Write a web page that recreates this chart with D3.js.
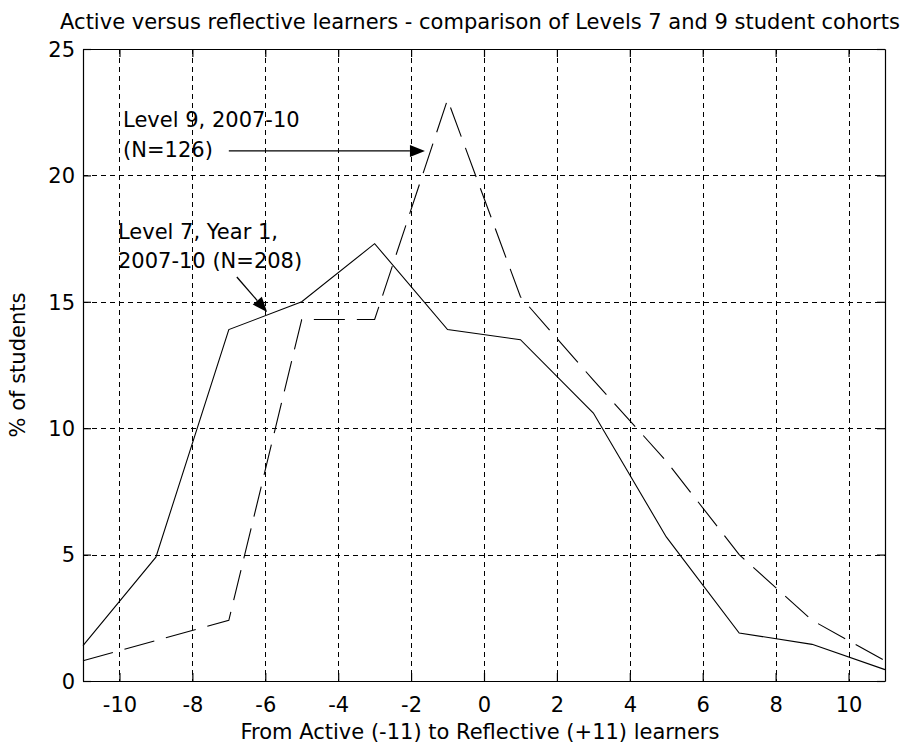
<!DOCTYPE html>
<html><head><meta charset="utf-8">
<script src="https://cdn.jsdelivr.net/npm/d3@7"></script>
<style>
html,body{margin:0;padding:0;background:#fff;}
svg text{font-family:"DejaVu Sans",Verdana,sans-serif;fill:#000;}
</style></head>
<body><svg id="c" width="906" height="749"></svg>
<script>
// ---- data ----
const xCategories = [-11,-9,-7,-5,-3,-1,1,3,5,7,9,11];
const level7 = [1.4,4.9,13.9,15.0,17.3,13.9,13.5,10.6,5.7,1.9,1.45,0.45];
const level9 = [0.8,1.6,2.4,14.3,14.3,23.0,15.2,11.9,8.7,5.0,2.4,0.8];
const xTicks = [-10,-8,-6,-4,-2,0,2,4,6,8,10];
const yTicks = [0,5,10,15,20,25];
const titleText = "Active versus reflective learners - comparison of Levels 7 and 9 student cohorts";
const xLabel = "From Active (-11) to Reflective (+11) learners";
const yLabel = "% of students";
const annotations = [
  {lines:["Level 9, 2007-10","(N=126)"], x:-9.9, y:21.9, from:[-7.0,20.97], to:[-1.62,20.97]},
  {lines:["Level 7, Year 1,","2007-10 (N=208)"], x:-10.04, y:17.5, from:[-6.78,15.98], to:[-5.95,14.6]}
];

// ---- chart ----
const svg = d3.select("#c");
const L=83, R=885, T=49, B=681;
const x = d3.scaleLinear().domain([-11,11]).range([L,R]);
const y = d3.scaleLinear().domain([0,25]).range([B,T]);
const FS = 21;

// grid
const g = svg.append("g");
g.selectAll(".vg").data(xTicks).enter().append("line")
  .attr("x1",d=>Math.round(x(d))+0.5).attr("x2",d=>Math.round(x(d))+0.5)
  .attr("y1",T).attr("y2",B)
  .attr("stroke","#000").attr("stroke-width",1).attr("stroke-dasharray","5,4");
g.selectAll(".hg").data(yTicks.filter(d=>d>0&&d<25)).enter().append("line")
  .attr("y1",d=>Math.round(y(d))+0.5).attr("y2",d=>Math.round(y(d))+0.5)
  .attr("x1",L).attr("x2",R)
  .attr("stroke","#000").attr("stroke-width",1).attr("stroke-dasharray","5,4");

// axes using d3 axes (inner ticks)
const xAxisB = d3.axisBottom(x).tickValues(xTicks).tickSizeInner(-8).tickSizeOuter(0).tickFormat(d=>d);
const xAxisT = d3.axisTop(x).tickValues(xTicks).tickSizeInner(-8).tickSizeOuter(0).tickFormat("");
const yAxisL = d3.axisLeft(y).tickValues(yTicks).tickSizeInner(-8).tickSizeOuter(0).tickFormat(d=>d);
const yAxisR = d3.axisRight(y).tickValues(yTicks).tickSizeInner(-8).tickSizeOuter(0).tickFormat("");
function styleAxis(sel){
  sel.selectAll("path,line").attr("stroke","#000").attr("stroke-width",1.2);
  sel.selectAll("text").attr("font-size",FS).attr("font-family",null).attr("fill","#000");
}
svg.append("g").attr("transform",`translate(0,${B})`).call(xAxisB).call(styleAxis)
  .selectAll("text").attr("dy",null).attr("y",31);
svg.append("g").attr("transform",`translate(0,${T})`).call(xAxisT).call(styleAxis);
svg.append("g").attr("transform",`translate(${L},0)`).call(yAxisL).call(styleAxis)
  .selectAll("text").attr("x",-8).attr("dy","0.35em");
svg.append("g").attr("transform",`translate(${R},0)`).call(yAxisR).call(styleAxis);

// data lines
const line = d3.line().x((d,i)=>x(xCategories[i])).y(d=>y(d));
svg.append("path").datum(level7).attr("d",line)
  .attr("fill","none").attr("stroke","#000").attr("stroke-width",1.1);
svg.append("path").datum(level9).attr("d",line)
  .attr("fill","none").attr("stroke","#000").attr("stroke-width",1.1).attr("stroke-dasharray","31,12");

// annotations
annotations.forEach(a=>{
  a.lines.forEach((t,i)=>{
    svg.append("text").attr("x",x(a.x)).attr("y",y(a.y)+i*29.5).attr("font-size",FS).text(t);
  });
  const x1=x(a.from[0]), y1=y(a.from[1]), x2=x(a.to[0]), y2=y(a.to[1]);
  const ang=Math.atan2(y2-y1,x2-x1), hl=15, hw=6;
  const bx=x2-hl*Math.cos(ang), by=y2-hl*Math.sin(ang);
  svg.append("line").attr("x1",x1).attr("y1",y1).attr("x2",bx).attr("y2",by)
    .attr("stroke","#000").attr("stroke-width",1.3);
  const px=-Math.sin(ang), py=Math.cos(ang);
  svg.append("path").attr("d",`M${x2},${y2}L${bx+px*hw},${by+py*hw}L${bx-px*hw},${by-py*hw}Z`).attr("fill","#000");
});

// titles
svg.append("text").attr("x",480).attr("y",29).attr("text-anchor","middle").attr("font-size",FS).text(titleText);
svg.append("text").attr("x",480).attr("y",739).attr("text-anchor","middle").attr("font-size",FS).text(xLabel);
svg.append("text").attr("transform",`translate(25,${(T+B)/2}) rotate(-90)`).attr("text-anchor","middle").attr("font-size",FS).text(yLabel);
</script></body></html>
